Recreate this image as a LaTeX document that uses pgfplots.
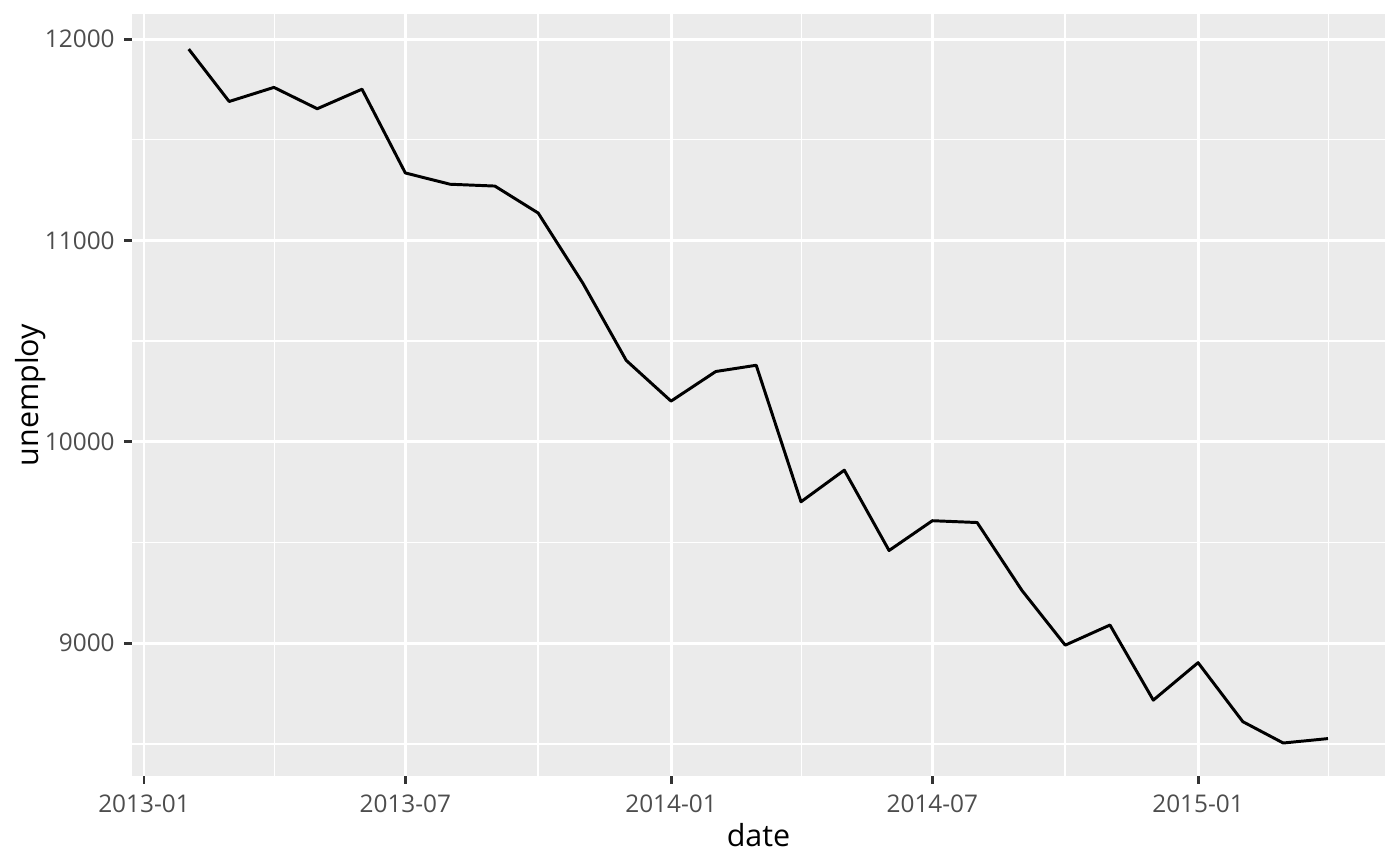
\documentclass[border=0pt]{standalone}
\usepackage{pgfplots}
\pgfplotsset{compat=1.18}
\usepackage{fontspec}
\setmainfont{Open Sans}
\definecolor{panelbg}{RGB}{235,235,235}
\definecolor{ticktext}{RGB}{77,77,77}
\definecolor{tickmark}{RGB}{51,51,51}
% x = days since 2013-01-01, one point per month (2013-02 .. 2015-04)
\pgfplotstableread{
day unemploy
31  11950
59  11690
90  11760
120 11654
151 11751
181 11335
212 11279
243 11270
273 11136
304 10787
334 10404
365 10202
396 10349
424 10380
455 9702
485 9859
516 9460
546 9608
577 9599
608 9262
638 8990
669 9090
699 8717
730 8903
761 8610
789 8504
820 8526
}\unemp
\begin{document}
\begin{tikzpicture}
\path[use as bounding box] (-47.7pt,-32.5pt) rectangle (458.2pt,280.5pt);
\begin{axis}[
    at={(0,0)}, anchor=south west,
    scale only axis,
    width=452.8pt, height=275.4pt,
    xmin=-8.3, xmax=859.5,
    ymin=8339, ymax=12124,
    axis background/.style={fill=panelbg},
    axis line style={draw=none},
    xtick={0,181,365,546,730},
    xticklabels={2013-01,2013-07,2014-01,2014-07,2015-01},
    minor xtick={90.5,273,455.5,638,820.5},
    ytick={9000,10000,11000,12000},
    yticklabels={9000,10000,11000,12000},
    minor ytick={8500,9500,10500,11500},
    scaled y ticks=false,
    tick pos=left,
    grid=both,
    major grid style={white, line width=1.07pt},
    minor grid style={white, line width=0.53pt},
    tick align=outside,
    major tick length=2.75pt,
    minor tick length=0pt,
    tick style={tickmark, line width=1.07pt},
    tick label style={font=\fontsize{8.8}{10}\selectfont, text=ticktext},
    xticklabel style={yshift=-0.3pt},
    xlabel={date}, ylabel={unemploy},
    label style={font=\fontsize{11}{13}\selectfont},
    xlabel style={yshift=2.8pt},
    ylabel style={yshift=-7pt},
    clip=true,
]
\addplot[black, line width=1.07pt, line join=round] table[x=day, y=unemploy] {\unemp};
\end{axis}
\end{tikzpicture}
\end{document}
